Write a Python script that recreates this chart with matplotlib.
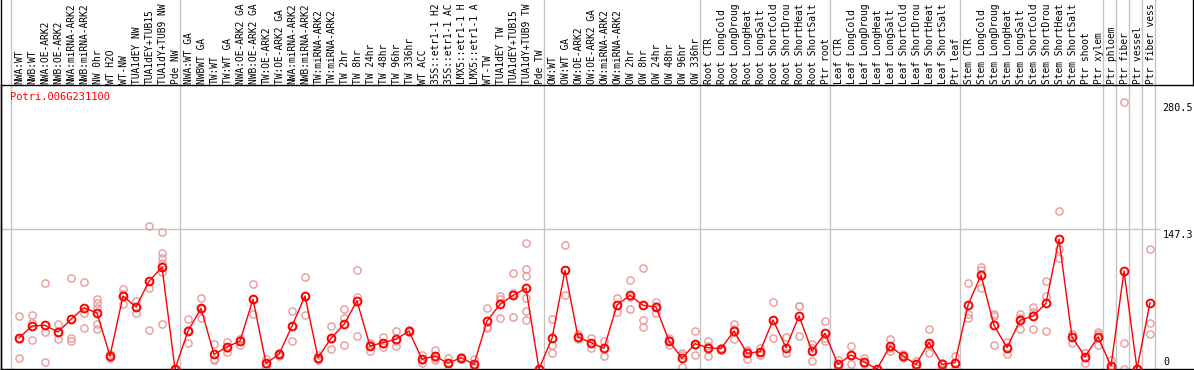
import numpy as np
import matplotlib
matplotlib.use('Agg')
import matplotlib.pyplot as plt

gene = "Potri.006G231100"

# labels as far as they are visible in the header strip
labels = ["NWA:WT", "NWB:WT", "NWA:OE-ARK2", "NWB:OE-ARK2", "NWA:miRNA-ARK2",
          "NWB:miRNA-ARK2", "NW 0hr", "WT H2O", "WT-NW", "TUA1dEY NW",
          "TUA1dEY+TUB15", "TUA1dY+TUB9 NW", "Pde NW",
          "NWA:WT GA", "NWBWT GA", "TW:WT", "TW:WT GA", "NWA:OE-ARK2 GA",
          "NWB:OE-ARK2 GA", "TW:OE-ARK2", "TW:OE-ARK2 GA", "NWA:miRNA-ARK2",
          "NWB:miRNA-ARK2", "TW:miRNA-ARK2", "TW:miRNA-ARK2", "TW 2hr",
          "TW 8hr", "TW 24hr", "TW 48hr", "TW 96hr", "TW 336hr", "WT ACC",
          "35S::etr1-1 H2", "35S::etr1-1 AC", "LMX5::etr1-1 H",
          "LMX5::etr1-1 A", "WT-TW", "TUA1dEY TW", "TUA1dEY+TUB15",
          "TUA1dY+TUB9 TW", "Pde TW",
          "OW:WT", "OW:WT GA", "OW:OE-ARK2", "OW:OE-ARK2 GA", "OW:miRNA-ARK2",
          "OW:miRNA-ARK2", "OW 2hr", "OW 8hr", "OW 24hr", "OW 48hr",
          "OW 96hr", "OW 336hr",
          "Root CTR", "Root LongCold", "Root LongDroug", "Root LongHeat",
          "Root LongSalt", "Root ShortCold", "Root ShortDrou",
          "Root ShortHeat", "Root ShortSalt", "Ptr root",
          "Leaf CTR", "Leaf LongCold", "Leaf LongDroug", "Leaf LongHeat",
          "Leaf LongSalt", "Leaf ShortCold", "Leaf ShortDrou",
          "Leaf ShortHeat", "Leaf ShortSalt", "Ptr leaf",
          "Stem CTR", "Stem LongCold", "Stem LongDroug", "Stem LongHeat",
          "Stem LongSalt", "Stem ShortCold", "Stem ShortDrou",
          "Stem ShortHeat", "Stem ShortSalt", "Ptr shoot", "Ptr xylem",
          "Ptr phloem", "Ptr fiber", "Ptr vessel", "Ptr fiber vess"]

# first column of each group (separators drawn before them)
group_starts = [0, 13, 41, 53, 63, 73, 84, 85, 86, 87, 88]

means = [32.6, 45.2, 45.9, 38.9, 52.2, 64.4, 58.8, 13.7, 76.7, 65.1, 92.1, 107.1, 0,
         39.9, 63.7, 15.4, 23.1, 29.4, 73.2, 6.0, 15.4, 45.2, 76.7, 11.9, 32.2, 46.9,
         71.4, 24.2, 27.7, 31.2, 39.9, 10.2, 13.7, 6.0, 11.9, 4.9, 50.4, 67.9, 77.4,
         84.7, 0,
         32.2, 103.6, 33.6, 27.7, 21.7, 67.2, 77.4, 66.9, 65.1, 29.4, 11.2, 26.6,
         22.4, 21.4, 39.9, 16.5, 18.2, 51.5, 22.4, 55.7, 18.9, 37.5, 4.9,
         14.7, 7.4, 0, 24.2, 13.7, 4.9, 27.7, 4.9, 6.7, 67.2,
         98.4, 45.9, 22.4, 51.1, 55.7, 69.0, 136.2, 33.6, 13.0, 33.6, 3.2,
         102.9, 0, 69.7]

reps = [[55.3, 11.2, 31.3], [56.7, 30.5, 48.4], [90.0, 38.5, 7.0], [46.9, 31.2, 38.6],
        [95.2, 32.9, 29.4], [91.4, 59.2, 42.7], [73.5, 69.7, 64.0, 47.6, 41.7],
        [13.0, 11.9, 16.2], [83.7, 67.9, 78.5], [71.4, 59.2, 64.7],
        [150.2, 85.4, 41.0], [143.9, 121.5, 116.2, 102.2, 46.9, 111.0], [0, 0, 0],
        [52.2, 27.0, 40.5], [74.2, 53.9, 63.0], [25.9, 10.2, 9.1], [28.7, 18.2, 22.4],
        [31.9, 25.2, 31.1], [88.9, 57.4, 73.3], [10.2, 2.5, 5.3], [15.0, 14.0, 17.2],
        [60.9, 29.4, 45.3], [96.6, 56.4, 77.1], [12.0, 9.1, 14.6], [44.8, 20.7, 31.1],
        [62.7, 53.2, 25.2], [104.0, 75.6, 34.7], [27.7, 18.9, 26.0], [33.6, 23.5, 26.0],
        [39.9, 23.8, 29.9], [40.5, 38.9, 40.3], [14.7, 6.7, 9.2], [20.0, 9.1, 12.0],
        [11.2, 0.4, 6.4], [12.6, 11.0, 12.1], [10.9, 1.4, 2.4], [63.7, 43.4, 44.1],
        [76.7, 53.9, 73.1], [100.5, 80.2, 55.0],
        [132.0, 104.7, 97.7, 74.9, 60.9, 51.1], [0, 0, 0],
        [52.2, 25.2, 17.2], [129.9, 77.4, 103.5], [36.5, 31.0, 33.3], [32.9, 22.4, 27.8],
        [29.4, 13.7, 22.0], [74.2, 60.2, 67.2], [93.5, 62.7, 76.0], [105.7, 51.1, 44.5],
        [70.4, 59.2, 65.7], [32.9, 25.2, 30.1], [17.2, 2.1, 14.3], [39.9, 14.7, 25.2],
        [29.4, 13.7, 24.1], [22.5, 20.1, 21.6], [46.9, 31.2, 41.6], [20.0, 10.2, 19.3],
        [18.2, 14.7, 21.7], [70.4, 32.9, 51.2], [33.6, 17.2, 16.4], [66.2, 34.7, 66.2],
        [26.6, 8.4, 21.7], [50.4, 29.4, 32.7], [9.1, 3.0, 2.6], [24.2, 4.9, 15.0],
        [11.2, 4.9, 6.1], [0, 0, 0], [31.9, 18.9, 21.8], [16.1, 11.2, 13.8],
        [8.4, 1.4, 4.9], [41.7, 16.5, 24.9], [6.7, 1.4, 6.6], [13.7, 0.0, 6.4],
        [90.0, 57.4, 53.9], [107.5, 104.0, 85.4], [57.4, 24.9, 55.4], [28.7, 15.4, 23.1],
        [53.9, 41.7, 57.7], [65.1, 41.7, 60.3], [92.4, 76.7, 39.9], [166.0, 125.7, 116.2],
        [37.1, 27.0, 36.7], [16.5, 6.0, 16.5], [39.2, 25.2, 36.4], [9.6, 0.0, 0.0],
        [280.5, 27.0, 0.0], [0, 0, 0], [125.7, 48.0, 36.4]]

y_ticks = [280.5, 147.3, 0]

W, H = 1194, 370
fig = plt.figure(figsize=(W / 100, H / 100), dpi=100)
# plot box in pixels: x 1..1194, y 85..369 (from top)
ax = fig.add_axes([1 / W, 1 / H, 1 - 1 / W, 284 / H])
ax.set_xlim(-18 / 13, (W - 19) / 13)
ax.set_ylim(0, 284 / 0.952)
ax.set_xticks([])
ax.set_yticks([])
for s in ['left', 'top', 'bottom']:
    ax.spines[s].set_color('black')
    ax.spines[s].set_linewidth(1.0)
ax.spines['right'].set_visible(False)

font = 'DejaVu Sans Mono'
gray = '#c4c4c4'
top = 369 / 284.0  # axes fraction at figure top

# group separators run through label area
for g in group_starts:
    ax.axvline(g - 0.65, ymin=0, ymax=top, color=gray, lw=1.0, clip_on=False, zorder=1)
ax.plot([0, 0], [0, top], color='black', lw=1.0, transform=ax.transAxes, clip_on=False)
ax.plot([0.9995, 0.9995], [1, top], color='black', lw=1.0,
        transform=ax.transAxes, clip_on=False)

ax.hlines(y_ticks[1], -18 / 13, 87.8, color=gray, lw=1.0, zorder=1)

x = np.arange(len(labels))
for i, r in enumerate(reps):
    ax.plot([i] * len(r), r, 'o', ms=5.2, mfc='none', mec='#e99a9a', mew=1.0,
            clip_on=True, zorder=2)
ax.plot(x, means, '-', color='#ff0000', lw=1.0, zorder=3)
ax.plot(x, means, 'o', ms=5.6, mfc='none', mec='#ff0000', mew=1.4, zorder=4)

trans = ax.get_xaxis_transform()
for i, lab in enumerate(labels):
    ax.text(i + 0.05, (369 - 83.5) / 284, lab, rotation=90, ha='center', va='bottom',
            fontsize=6.95, family=font, transform=trans, clip_on=False)

ax.text(9 / W, 0.958, gene, color='#ff0000', fontsize=7.5, family=font,
        ha='left', va='center', transform=ax.transAxes)

ax.text(87.95, y_ticks[0] - 1, "%.1f" % y_ticks[0], fontsize=7.3, family=font,
        ha='left', va='top')
ax.text(87.95, y_ticks[1] - 1, "%.1f" % y_ticks[1], fontsize=7.3, family=font,
        ha='left', va='top')
ax.text(88.0, 2, "0", fontsize=7.3, family=font, ha='left', va='bottom')

plt.savefig('out.png', dpi=100)
